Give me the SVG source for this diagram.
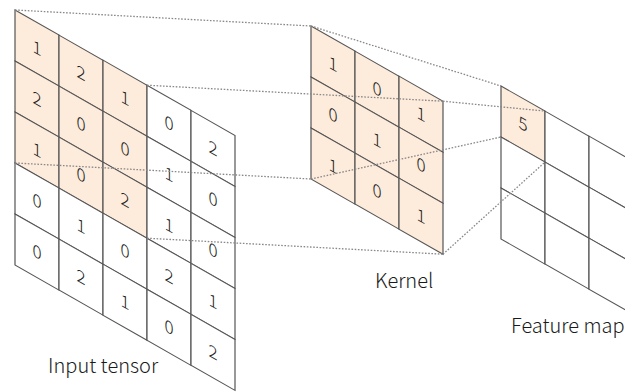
<svg xmlns="http://www.w3.org/2000/svg" width="625" height="392" viewBox="0 0 625 392">
<style>
.cell{fill:#ffffff;stroke:#555555;stroke-width:1.2}
.hl{fill:#fdebdc}
.num{font-family:"Noto Sans CJK JP","Noto Sans",sans-serif;font-weight:300;font-size:17px;fill:#222222;text-anchor:middle}
.label{font-family:"Noto Sans CJK JP","Noto Sans",sans-serif;font-weight:300;font-size:20px;fill:#1a1a1a}
.dot{fill:none;stroke:#888888;stroke-width:1.3;stroke-dasharray:1.6 1.6}
</style>
<rect width="625" height="392" fill="#ffffff"/>
<g id="input-tensor">
<g transform="matrix(1,0.57,0,1,15,10)">
<g class="cell">
<rect class="hl" x="0" y="0" width="44" height="51"/><rect class="hl" x="44" y="0" width="44" height="51"/><rect class="hl" x="88" y="0" width="44" height="51"/><rect x="132" y="0" width="44" height="51"/><rect x="176" y="0" width="44" height="51"/>
<rect class="hl" x="0" y="51" width="44" height="51"/><rect class="hl" x="44" y="51" width="44" height="51"/><rect class="hl" x="88" y="51" width="44" height="51"/><rect x="132" y="51" width="44" height="51"/><rect x="176" y="51" width="44" height="51"/>
<rect class="hl" x="0" y="102" width="44" height="51"/><rect class="hl" x="44" y="102" width="44" height="51"/><rect class="hl" x="88" y="102" width="44" height="51"/><rect x="132" y="102" width="44" height="51"/><rect x="176" y="102" width="44" height="51"/>
<rect x="0" y="153" width="44" height="51"/><rect x="44" y="153" width="44" height="51"/><rect x="88" y="153" width="44" height="51"/><rect x="132" y="153" width="44" height="51"/><rect x="176" y="153" width="44" height="51"/>
<rect x="0" y="204" width="44" height="51"/><rect x="44" y="204" width="44" height="51"/><rect x="88" y="204" width="44" height="51"/><rect x="132" y="204" width="44" height="51"/><rect x="176" y="204" width="44" height="51"/>
</g>
<g class="num">
<text x="22" y="31.5">1</text><text x="66" y="31.5">2</text><text x="110" y="31.5">1</text><text x="154" y="31.5">0</text><text x="198" y="31.5">2</text>
<text x="22" y="82.5">2</text><text x="66" y="82.5">0</text><text x="110" y="82.5">0</text><text x="154" y="82.5">1</text><text x="198" y="82.5">0</text>
<text x="22" y="133.5">1</text><text x="66" y="133.5">0</text><text x="110" y="133.5">2</text><text x="154" y="133.5">1</text><text x="198" y="133.5">0</text>
<text x="22" y="184.5">0</text><text x="66" y="184.5">1</text><text x="110" y="184.5">0</text><text x="154" y="184.5">2</text><text x="198" y="184.5">1</text>
<text x="22" y="235.5">0</text><text x="66" y="235.5">2</text><text x="110" y="235.5">1</text><text x="154" y="235.5">0</text><text x="198" y="235.5">2</text>
</g>
</g>
<text class="label" x="48" y="372.5">Input tensor</text>
</g>
<g id="kernel">
<g transform="matrix(1,0.57,0,1,311,26)">
<g class="cell">
<rect class="hl" x="0" y="0" width="44" height="51"/><rect class="hl" x="44" y="0" width="44" height="51"/><rect class="hl" x="88" y="0" width="44" height="51"/>
<rect class="hl" x="0" y="51" width="44" height="51"/><rect class="hl" x="44" y="51" width="44" height="51"/><rect class="hl" x="88" y="51" width="44" height="51"/>
<rect class="hl" x="0" y="102" width="44" height="51"/><rect class="hl" x="44" y="102" width="44" height="51"/><rect class="hl" x="88" y="102" width="44" height="51"/>
</g>
<g class="num">
<text x="22" y="31.5">1</text><text x="66" y="31.5">0</text><text x="110" y="31.5">1</text>
<text x="22" y="82.5">0</text><text x="66" y="82.5">1</text><text x="110" y="82.5">0</text>
<text x="22" y="133.5">1</text><text x="66" y="133.5">0</text><text x="110" y="133.5">1</text>
</g>
</g>
<text class="label" x="375" y="287.5">Kernel</text>
</g>
<g id="feature-map">
<g transform="matrix(1,0.57,0,1,501,86)">
<g class="cell">
<rect class="hl" x="0" y="0" width="44" height="51"/><rect x="44" y="0" width="44" height="51"/><rect x="88" y="0" width="44" height="51"/>
<rect x="0" y="51" width="44" height="51"/><rect x="44" y="51" width="44" height="51"/><rect x="88" y="51" width="44" height="51"/>
<rect x="0" y="102" width="44" height="51"/><rect x="44" y="102" width="44" height="51"/><rect x="88" y="102" width="44" height="51"/>
</g>
<g class="num">
<text x="22" y="31.5">5</text>
</g>
</g>
<text class="label" x="511" y="332.5">Feature map</text>
</g>
<g id="connectors" class="dot">
<line x1="15" y1="10" x2="311" y2="26"/>
<line x1="147" y1="85.2" x2="443" y2="101.2"/>
<line x1="15" y1="163" x2="311" y2="179"/>
<line x1="147" y1="238.2" x2="443" y2="254.2"/>
<line x1="311" y1="26" x2="501" y2="86"/>
<line x1="443" y1="101.2" x2="545" y2="111.1"/>
<line x1="311" y1="179" x2="501" y2="137"/>
<line x1="443" y1="254.2" x2="545" y2="162.1"/>
</g>
</svg>
